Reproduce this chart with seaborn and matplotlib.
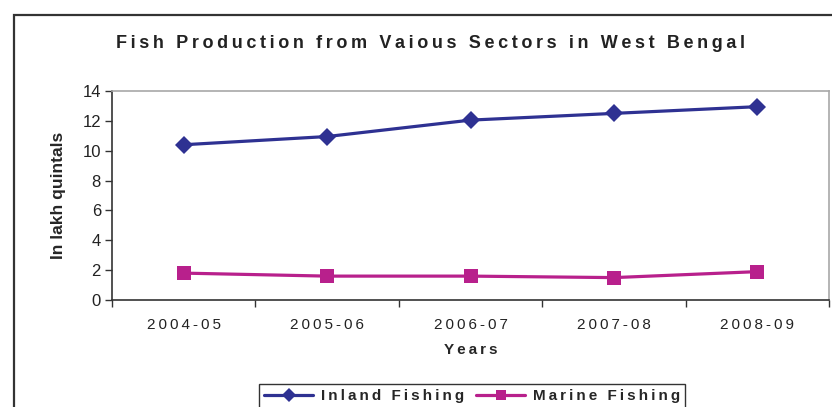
import pandas as pd
import matplotlib.pyplot as plt
import matplotlib.patches as mpatches
import seaborn as sns

# data (lakh quintals)
years = ['2004-05', '2005-06', '2006-07', '2007-08', '2008-09']
inland = [10.4, 10.95, 12.05, 12.5, 12.95]
marine = [1.8, 1.6, 1.6, 1.5, 1.9]
series_names = ['Inland Fishing', 'Marine Fishing']
y_ticks = [0, 2, 4, 6, 8, 10, 12, 14]

SP = '\u2009'


def spaced(s):
    # the original uses letter-spaced text
    return SP.join(s)


sns.set_style('white')
plt.rcParams['font.family'] = ['Liberation Sans', 'DejaVu Sans']

df = pd.DataFrame({
    'year': years * 2,
    'value': inland + marine,
    'sector': [series_names[0]] * len(years) + [series_names[1]] * len(years),
})

fig = plt.figure(figsize=(8.32, 4.07), dpi=100)
ax = fig.add_axes([112 / 832, 1 - 300 / 407, 717 / 832, 209 / 407])

sns.lineplot(data=df, x='year', y='value', hue='sector', style='sector',
             markers={series_names[0]: 'D', series_names[1]: 's'}, dashes=False,
             palette={series_names[0]: '#2E3192', series_names[1]: '#B8208C'},
             linewidth=2.3, markersize=9.5, markeredgewidth=0, ax=ax, legend=True)

ax.set_ylim(0, 14)
ax.set_yticks(y_ticks)
ax.set_yticklabels([str(t) for t in y_ticks], fontsize=12, color='#222222')
ax.tick_params(axis='y', length=5, width=1, color='#333333', pad=3, left=True)

ax.set_xlim(-0.5, len(years) - 0.5)
ax.set_xticks([i - 0.5 for i in range(len(years) + 1)])
ax.set_xticklabels([''] * (len(years) + 1))
ax.set_xticks(range(len(years)), minor=True)
ax.set_xticklabels([spaced(y) for y in years], minor=True, fontsize=11, color='#222222')
ax.tick_params(axis='x', which='major', length=5, width=1, color='#333333', bottom=True)
ax.tick_params(axis='x', which='minor', length=0, pad=13)

for side in ['left', 'bottom']:
    ax.spines[side].set_color('#333333')
    ax.spines[side].set_linewidth(1.2)
for side in ['top', 'right']:
    ax.spines[side].set_color('#a8a8a8')
    ax.spines[side].set_linewidth(1.2)

ax.set_xlabel(spaced('Years'), fontsize=11, fontweight='bold', labelpad=8)
ax.set_ylabel('In lakh quintals', fontsize=12.5, fontweight='bold',
              family=['Liberation Sans Narrow', 'Liberation Sans', 'DejaVu Sans'], labelpad=12)

fig.text(430 / 832, 1 - 43 / 407, spaced('Fish Production from Vaious Sectors in West Bengal'),
         ha='center', va='center', fontsize=13, fontweight='bold', color='#222222')

handles, labels = ax.get_legend_handles_labels()
ax.get_legend().remove()
leg = fig.legend(handles, [spaced(l) for l in labels], loc='upper center', ncol=2,
                 bbox_to_anchor=(472 / 832, 1 - 376 / 407), frameon=True, fancybox=False,
                 edgecolor='#333333', framealpha=1, handlelength=3.2, columnspacing=0.8,
                 handletextpad=0.5, borderpad=0.35, prop={'weight': 'bold', 'size': 11})
for h in leg.legend_handles:
    h.set_markersize(7)

# outer chart border
fig.patches.append(mpatches.Rectangle((14 / 832, -0.1), 1.0, 1 - 15 / 407 + 0.1,
                                      transform=fig.transFigure, fill=False,
                                      edgecolor='#333333', linewidth=1.6))

fig.savefig('out.png', dpi=100)
